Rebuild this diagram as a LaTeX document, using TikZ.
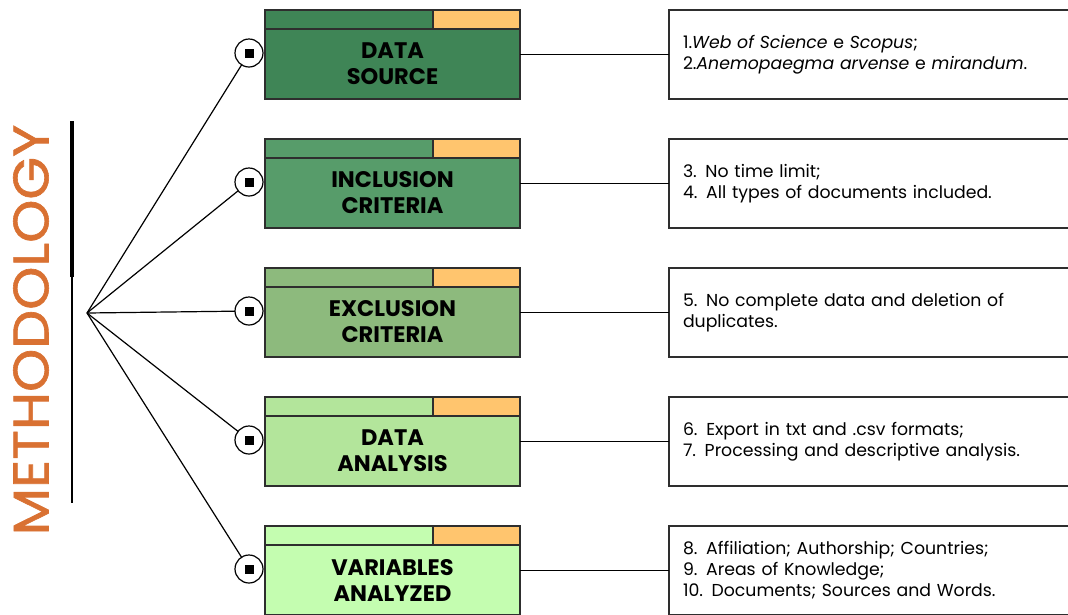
\documentclass[tikz,border=0pt]{standalone}
\usepackage{fontspec}
\setmainfont{Poppins}
\newfontfamily\titlefont[FakeBold=1.2]{Poppins}
\usetikzlibrary{positioning}
\definecolor{edge}{HTML}{2E2E2E}
\definecolor{stepa}{HTML}{3F8556}
\definecolor{stepb}{HTML}{579C6A}
\definecolor{stepc}{HTML}{8DBA7D}
\definecolor{stepd}{HTML}{B3E59B}
\definecolor{stepe}{HTML}{C4FDB0}
\definecolor{tabcol}{HTML}{FFC56E}
\definecolor{titlecol}{HTML}{D97132}

\begin{document}
\begin{tikzpicture}[x=1pt, y=-1pt, line width=1.2pt,
  stage/.style = {draw=edge, line width=1.3pt, minimum width=255pt, minimum height=70pt, inner sep=0pt, outer sep=0pt, align=center, font=\bfseries\fontsize{22.5}{26}\selectfont},
  strip/.style = {draw=edge, line width=1.3pt, minimum width=168pt, minimum height=19pt, inner sep=0pt, outer sep=0pt, anchor=south west},
  tab/.style = {draw=edge, line width=1.3pt, fill=tabcol, minimum width=87pt, minimum height=19pt, inner sep=0pt, outer sep=0pt, anchor=south east},
  dot/.style = {draw, circle, fill=white, minimum size=28pt, inner sep=0pt, outer sep=0pt},
  info/.style = {draw=edge, line width=1.3pt, minimum width=410pt, minimum height=89pt, text width=382pt, inner sep=13pt, outer sep=0pt, align=left, font=\fontsize{17.3}{21}\selectfont}]
  \useasboundingbox (0,0) rectangle (1068,614);

  % title and bar
  \node[rotate=90, text=titlecol, font=\titlefont\fontsize{50}{50}\selectfont] (title) at (31,330) {\scalebox{1.1}[1]{METHODOLOGY}};
  \draw[line width=4pt] (72,121) -- (72,277);
  \draw[line width=1.6pt] (72,277) -- (72,503);
  \coordinate (fan) at (87,313);

  % stages
  \node[stage, fill=stepa] (m1) at (392.5,64) {DATA\\SOURCE};
  \node[stage, fill=stepb] (m2) [below=59pt of m1] {INCLUSION\\CRITERIA};
  \node[stage, fill=stepc] (m3) [below=59pt of m2] {EXCLUSION\\CRITERIA};
  \node[stage, fill=stepd] (m4) [below=59pt of m3] {DATA\\ANALYSIS};
  \node[stage, fill=stepe] (m5) [below=59pt of m4] {VARIABLES\\ANALYZED};

  \node[strip, fill=stepa] (s1) at (m1.north west) {};
  \node[strip, fill=stepb] (s2) at (m2.north west) {};
  \node[strip, fill=stepc] (s3) at (m3.north west) {};
  \node[strip, fill=stepd] (s4) at (m4.north west) {};
  \node[strip, fill=stepe] (s5) at (m5.north west) {};
  \node[tab] (t1) at (m1.north east) {};
  \node[tab] (t2) at (m2.north east) {};
  \node[tab] (t3) at (m3.north east) {};
  \node[tab] (t4) at (m4.north east) {};
  \node[tab] (t5) at (m5.north east) {};

  % bullets
  \node[dot, left=2pt of m1.west, yshift=11pt] (d1) {\rule{9pt}{9pt}};
  \node[dot, left=2pt of m2.west, yshift=11pt] (d2) {\rule{9pt}{9pt}};
  \node[dot, left=2pt of m3.west, yshift=11pt] (d3) {\rule{9pt}{9pt}};
  \node[dot, left=2pt of m4.west, yshift=11pt] (d4) {\rule{9pt}{9pt}};
  \node[dot, left=2pt of m5.west, yshift=11pt] (d5) {\rule{9pt}{9pt}};

  % details
  \node[info, right=149pt of m1, yshift=9.5pt] (r1) {1.\textit{Web of Science} e \textit{Scopus};\\2.\textit{Anemopaegma arvense} e \textit{mirandum}.};
  \node[info, right=149pt of m2, yshift=9.5pt] (r2) {3. No time limit;\\4. All types of documents included.};
  \node[info, right=149pt of m3, yshift=9.5pt] (r3) {5. No complete data and deletion of\\duplicates.};
  \node[info, right=149pt of m4, yshift=9.5pt] (r4) {6. Export in txt and .csv formats;\\7. Processing and descriptive analysis.};
  \node[info, right=149pt of m5, yshift=9.5pt] (r5) {8. Affiliation; Authorship; Countries;\\9. Areas of Knowledge;\\10. Documents; Sources and Words.};

  \draw (fan) -- (d1);
  \draw (fan) -- (d2);
  \draw (fan) -- (d3);
  \draw (fan) -- (d4);
  \draw (fan) -- (d5);
  \draw (m1.east |- r1.west) -- (r1.west);
  \draw (m2.east |- r2.west) -- (r2.west);
  \draw (m3.east |- r3.west) -- (r3.west);
  \draw (m4.east |- r4.west) -- (r4.west);
  \draw (m5.east |- r5.west) -- (r5.west);
\end{tikzpicture}
\end{document}
